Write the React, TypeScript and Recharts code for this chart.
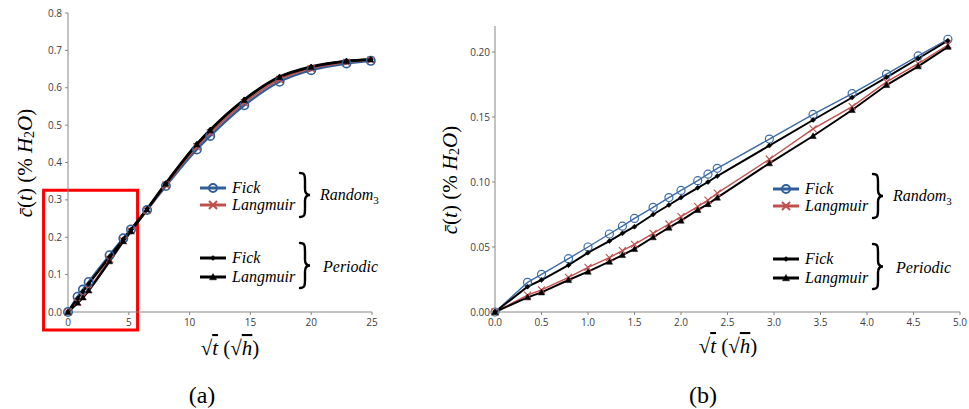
import React from "react";
import { LineChart, Line, XAxis, YAxis, ReferenceArea } from "recharts";

// ---- data (sqrt(t) in sqrt(h), concentration in % H2O) ----
const sqrtT = [0, 0.35, 0.5, 0.79, 1.0, 1.23, 1.37, 1.5, 1.7, 1.87, 2.0, 2.18, 2.29, 2.39, 2.95, 3.42, 3.84, 4.21, 4.55, 4.87, 5.18, 6.5, 8.05, 10.6, 11.7, 14.5, 17.4, 20.0, 22.9, 24.9];
const randomFick = [0, 0.0228, 0.029, 0.041, 0.05, 0.06, 0.066, 0.072, 0.0805, 0.088, 0.0935, 0.101, 0.106, 0.1105, 0.133, 0.152, 0.168, 0.183, 0.197, 0.2098, 0.221, 0.273, 0.337, 0.435, 0.471, 0.553, 0.616, 0.647, 0.665, 0.672];
const randomLangmuir = [0, 0.013, 0.017, 0.0267, 0.0344, 0.0418, 0.0472, 0.052, 0.0605, 0.0677, 0.0733, 0.081, 0.086, 0.0915, 0.1175, 0.1408, 0.158, 0.177, 0.191, 0.2054, 0.217, 0.272, 0.34, 0.442, 0.479, 0.56, 0.622, 0.651, 0.668, 0.674];
const periodicFick = [0, 0.0195, 0.0246, 0.036, 0.0456, 0.0546, 0.0605, 0.0656, 0.075, 0.0823, 0.088, 0.0955, 0.1, 0.1046, 0.128, 0.1477, 0.165, 0.1805, 0.195, 0.2087, 0.221, 0.276, 0.345, 0.45, 0.488, 0.569, 0.63, 0.657, 0.672, 0.676];
const periodicLangmuir = [0, 0.0113, 0.0151, 0.0246, 0.031, 0.0387, 0.0438, 0.0485, 0.0575, 0.0649, 0.0703, 0.0785, 0.083, 0.088, 0.1144, 0.1354, 0.1554, 0.1746, 0.189, 0.204, 0.216, 0.274, 0.343, 0.448, 0.486, 0.567, 0.628, 0.655, 0.671, 0.675];

// sample times shown in panel (a) (coarser) and range of panel (b)
const panelASqrtT = [0, 0.79, 1.23, 1.7, 3.42, 4.55, 5.18, 6.5, 8.05, 10.6, 11.7, 14.5, 17.4, 20.0, 22.9, 24.9];
const panelBMaxSqrtT = 5;

const xTicksA = [0, 5, 10, 15, 20, 25];
const yTicksA = [0, 0.1, 0.2, 0.3, 0.4, 0.5, 0.6, 0.7, 0.8];
const xTicksB = [0, 0.5, 1, 1.5, 2, 2.5, 3, 3.5, 4, 4.5, 5];
const yTicksB = [0, 0.05, 0.1, 0.15, 0.2];

const dataAll = sqrtT.map((x, i) => ({
  x,
  rf: randomFick[i],
  rl: randomLangmuir[i],
  pf: periodicFick[i],
  pl: periodicLangmuir[i],
}));
const dataA = dataAll.filter((d) => panelASqrtT.includes(d.x));
const dataB = dataAll.filter((d) => d.x <= panelBMaxSqrtT);

const BLUE = "#2F5E98";
const BLUE_B = "#3C6BA8";
const RED = "#C0504D";
const BLACK = "#000000";
const AXIS = "#868686";
const tickStyle = { fontFamily: '"Open Sans", sans-serif', fontSize: 10, fill: "#404040" };
const SERIF = "Liberation Serif, DejaVu Serif, serif";

type Kind = "circle" | "cross" | "diamond" | "triangle";

function marker(kind: Kind, cx: number, cy: number, color: string, s: number, sw: number, key?: string) {
  if (kind === "circle")
    return <circle key={key} cx={cx} cy={cy} r={s} fill="#fff" fillOpacity={0.01} stroke={color} strokeWidth={sw} />;
  if (kind === "cross")
    return (
      <path key={key} d={`M${cx - s},${cy - s}L${cx + s},${cy + s}M${cx - s},${cy + s}L${cx + s},${cy - s}`} stroke={color} strokeWidth={sw} fill="none" />
    );
  if (kind === "diamond")
    return <polygon key={key} points={`${cx},${cy - s} ${cx + s},${cy} ${cx},${cy + s} ${cx - s},${cy}`} fill={color} stroke={color} strokeWidth={0.5} />;
  return <polygon key={key} points={`${cx},${cy - s} ${cx + s},${cy + s * 0.8} ${cx - s},${cy + s * 0.8}`} fill={color} stroke={color} strokeWidth={0.5} />;
}

function makeDot(kind: Kind, color: string, s: number, sw: number) {
  return (props: any) => {
    const { cx, cy, index } = props;
    if (cx == null || cy == null) return <g key={`n-${kind}-${index}`} />;
    return marker(kind, cx, cy, color, s, sw, `d-${kind}-${index}`);
  };
}

function Brace({ x, y0, y1 }: { x: number; y0: number; y1: number }) {
  const ym = (y0 + y1) / 2;
  const d = `M${x},${y0} C${x + 5},${y0} ${x + 5},${y0 + 3} ${x + 5},${y0 + 8} L${x + 5},${ym - 6} C${x + 5},${ym - 2} ${x + 7},${ym} ${x + 10},${ym} C${x + 7},${ym} ${x + 5},${ym + 2} ${x + 5},${ym + 6} L${x + 5},${y1 - 8} C${x + 5},${y1 - 3} ${x + 5},${y1} ${x},${y1}`;
  return <path d={d} fill="none" stroke="#000" strokeWidth={2.4} strokeLinecap="round" />;
}

const serifStyle: React.CSSProperties = { fontFamily: SERIF };
const italicStyle: React.CSSProperties = { fontFamily: SERIF, fontStyle: "italic" };

function LegendBlock({ ox, oy }: { ox: number; oy: number }) {
  const lx1 = ox + 200;
  const lx2 = ox + 226;
  const mx = ox + 213;
  const tx = ox + 232;
  const rows: { y: number; color: string; kind: Kind; label: string; s: number; sw: number }[] = [
    { y: 188, color: BLUE, kind: "circle", label: "Fick", s: 4, sw: 2 },
    { y: 205, color: RED, kind: "cross", label: "Langmuir", s: 4, sw: 2 },
    { y: 258, color: BLACK, kind: "diamond", label: "Fick", s: 2.5, sw: 1 },
    { y: 277, color: BLACK, kind: "triangle", label: "Langmuir", s: 3.5, sw: 1 },
  ];
  return (
    <g>
      {rows.map((r, i) => (
        <g key={i}>
          <line x1={lx1} x2={lx2} y1={oy + r.y} y2={oy + r.y} stroke={r.color} strokeWidth={3} />
          {marker(r.kind, mx, oy + r.y, r.color, r.s, r.sw)}
          <text x={tx} y={oy + r.y + 5} style={italicStyle} fontSize={16} fill="#000">
            {r.label}
          </text>
        </g>
      ))}
      <Brace x={ox + 300} y0={oy + 173} y1={oy + 217} />
      <Brace x={ox + 300} y0={oy + 243} y1={oy + 288} />
      <text x={ox + 320} y={oy + 200} style={italicStyle} fontSize={16} fill="#000">
        Random
        <tspan dy={4} fontSize={11} style={{ fontStyle: "normal" }}>3</tspan>
      </text>
      <text x={ox + 323} y={oy + 272} style={italicStyle} fontSize={16} fill="#000">
        Periodic
      </text>
    </g>
  );
}

function YLabel({ cx, cy }: { cx: number; cy: number }) {
  return (
    <text x={cx} y={cy} transform={`rotate(-90, ${cx}, ${cy})`} textAnchor="middle" dominantBaseline="middle" style={serifStyle} fontSize={21} fill="#000">
      <tspan style={{ fontStyle: "italic" }}>{"c\u0304"}</tspan>
      <tspan>(</tspan>
      <tspan style={{ fontStyle: "italic" }}>t</tspan>
      <tspan>{") (% "}</tspan>
      <tspan style={{ fontStyle: "italic" }}>H</tspan>
      <tspan dy={4} fontSize={14}>2</tspan>
      <tspan dy={-4} style={{ fontStyle: "italic" }}>O</tspan>
      <tspan>)</tspan>
    </text>
  );
}

function XLabel({ cx, y }: { cx: number; y: number }) {
  return (
    <text x={cx} y={y} textAnchor="middle" style={serifStyle} fontSize={21} fill="#000">
      <tspan>{"\u221A"}</tspan>
      <tspan style={{ fontStyle: "italic", textDecoration: "overline" }}>t</tspan>
      <tspan>{" (\u221A"}</tspan>
      <tspan style={{ fontStyle: "italic", textDecoration: "overline" }}>h</tspan>
      <tspan>)</tspan>
    </text>
  );
}

export default function App() {
  return (
    <div style={{ position: "absolute", left: 0, top: 0, width: 969, height: 409, background: "#fff", overflow: "hidden" }}>
      <div style={{ position: "absolute", left: 0, top: 0 }}>
        <LineChart width={400} height={409} data={dataA} margin={{ top: 13, right: 28, left: 28, bottom: 67 }}>
          <XAxis dataKey="x" type="number" domain={[0, 25]} ticks={xTicksA} tick={tickStyle} tickSize={3} tickMargin={4} stroke={AXIS} tickFormatter={(v: number) => String(v)} />
          <YAxis type="number" domain={[0, 0.8]} ticks={yTicksA} tick={tickStyle} tickSize={3} tickMargin={3} width={40} stroke={AXIS} tickFormatter={(v: number) => v.toFixed(1)} />
          <Line type="monotone" dataKey="rf" stroke={BLUE} strokeWidth={2.4} dot={makeDot("circle", BLUE, 4.2, 1.6)} isAnimationActive={false} />
          <Line type="monotone" dataKey="rl" stroke={RED} strokeWidth={1.8} dot={makeDot("cross", RED, 3.5, 1.3)} isAnimationActive={false} />
          <Line type="monotone" dataKey="pf" stroke={BLACK} strokeWidth={2.4} dot={makeDot("diamond", BLACK, 2.5, 1)} isAnimationActive={false} />
          <Line type="monotone" dataKey="pl" stroke={BLACK} strokeWidth={2.4} dot={makeDot("triangle", BLACK, 3, 1)} isAnimationActive={false} />
          <ReferenceArea x1={-2.01} x2={5.72} y1={-0.048} y2={0.326} fill="none" fillOpacity={0} stroke="#FF0000" strokeWidth={3} ifOverflow="visible" />
        </LineChart>
      </div>
      <div style={{ position: "absolute", left: 430, top: 0 }}>
        <LineChart width={539} height={409} data={dataB} margin={{ top: 26, right: 9, left: 25, bottom: 67 }}>
          <XAxis dataKey="x" type="number" domain={[0, 5]} ticks={xTicksB} tick={tickStyle} tickSize={3} tickMargin={4} stroke={AXIS} tickFormatter={(v: number) => v.toFixed(1)} />
          <YAxis type="number" domain={[0, 0.22]} ticks={yTicksB} tick={tickStyle} tickSize={3} tickMargin={2} width={40} stroke={AXIS} tickFormatter={(v: number) => v.toFixed(2)} />
          <Line type="linear" dataKey="rf" stroke={BLUE_B} strokeWidth={1.4} dot={makeDot("circle", BLUE_B, 4, 1.2)} isAnimationActive={false} />
          <Line type="linear" dataKey="rl" stroke={RED} strokeWidth={1.4} dot={makeDot("cross", RED, 3.5, 1.1)} isAnimationActive={false} />
          <Line type="linear" dataKey="pf" stroke={BLACK} strokeWidth={2} dot={makeDot("diamond", BLACK, 2.5, 1)} isAnimationActive={false} />
          <Line type="linear" dataKey="pl" stroke={BLACK} strokeWidth={2} dot={makeDot("triangle", BLACK, 3.2, 1)} isAnimationActive={false} />
        </LineChart>
      </div>
      <svg width={969} height={409} style={{ position: "absolute", left: 0, top: 0, pointerEvents: "none" }}>
        <LegendBlock ox={0} oy={0} />
        <LegendBlock ox={573} oy={1} />
        <YLabel cx={27} cy={163} />
        <YLabel cx={452} cy={180} />
        <XLabel cx={230} y={355} />
        <XLabel cx={728} y={353} />
        <text x={202} y={403} textAnchor="middle" style={serifStyle} fontSize={24} fill="#000">(a)</text>
        <text x={703} y={403} textAnchor="middle" style={serifStyle} fontSize={24} fill="#000">(b)</text>
      </svg>
    </div>
  );
}
